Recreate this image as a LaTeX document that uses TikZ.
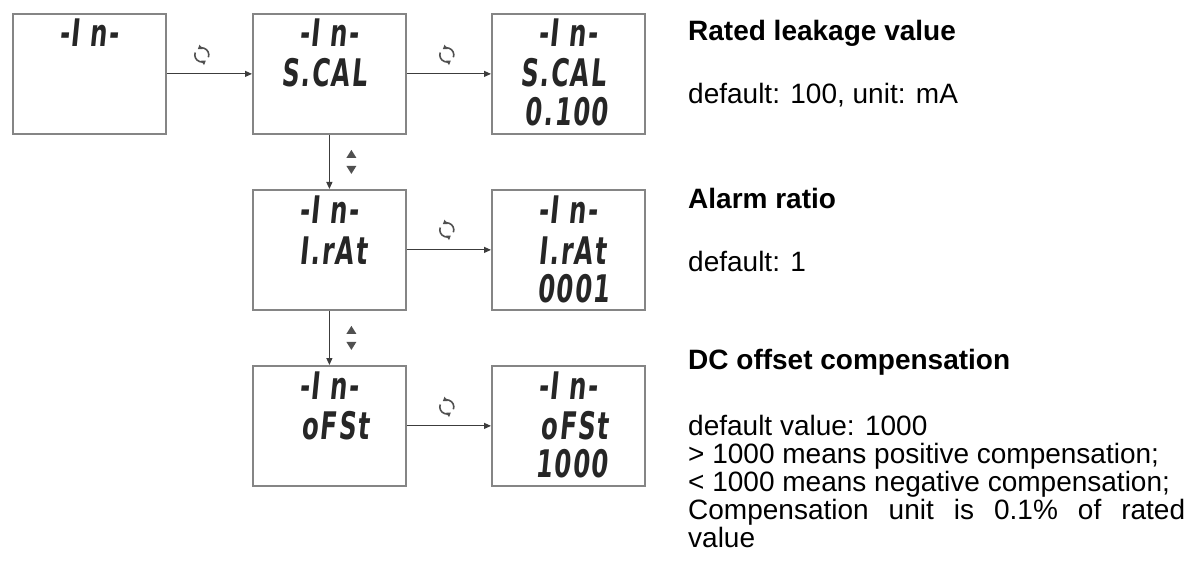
\documentclass[tikz,border=0pt]{standalone}
\usepackage{fontspec}
\setmainfont{Liberation Sans}
\newfontfamily\lcdfont[FakeSlant=0.1,FakeStretch=0.64,LetterSpace=4]{DejaVu Sans Bold}
\usetikzlibrary{arrows.meta,calc}
\definecolor{boxgray}{HTML}{858585}
\definecolor{arrowgray}{HTML}{3C3C3C}
\definecolor{icongray}{HTML}{505050}
\tikzset{
  screen/.style={draw=boxgray, line width=1.8pt, minimum width=153pt, minimum height=120pt, inner sep=0pt, anchor=north west},
  lcd/.style={font=\lcdfont\fontsize{38}{38}\selectfont, text=black!85, inner sep=0pt, anchor=base},
  lcdr/.style={lcd, anchor=base east},
  conn/.style={draw=arrowgray, line width=1.1pt, -{Triangle[length=7pt,width=6pt]}},
  note/.style={font=\fontsize{28}{28}\selectfont, anchor=base west, inner sep=0pt},
  head/.style={font=\bfseries\fontsize{28}{28}\selectfont, anchor=base west, inner sep=0pt},
  refresh/.pic={
    \draw[line width=1.6pt, draw=icongray, -{Triangle[length=4pt,width=5pt]}] (200:7) arc[start angle=200, end angle=55, radius=7];
    \draw[line width=1.6pt, draw=icongray, -{Triangle[length=4pt,width=5pt]}] (20:7) arc[start angle=20, end angle=-125, radius=7];
  },
  updown/.pic={
    \fill[icongray] (-5,-4) -- (5,-4) -- (0,-12) -- cycle;
    \fill[icongray] (-5,4) -- (5,4) -- (0,12) -- cycle;
  }
}
\begin{document}
\begin{tikzpicture}[x=1pt,y=-1pt]
\useasboundingbox (0,0) rectangle (1191,564);
% screens
\node[screen] (s1) at (12,13) {};
\node[screen] (s2) at (252,13) {};
\node[screen] (s3) at (491,13) {};
\node[screen] (s4) at (252,189) {};
\node[screen] (s5) at (491,189) {};
\node[screen] (s6) at (252,365) {};
\node[screen] (s7) at (491,365) {};
% LCD texts
\node[lcd] (s1a) at ($(s1.north west)+(77,34)$) {-I n-};
\node[lcd] (s2a) at ($(s2.north west)+(77,34)$) {-I n-};
\node[lcdr] (s2b) at ($(s2.north west)+(115,74)$) {S.CAL};
\node[lcd] (s3a) at ($(s3.north west)+(77,34)$) {-I n-};
\node[lcdr] (s3b) at ($(s3.north west)+(115,74)$) {S.CAL};
\node[lcdr] (s3c) at ($(s3.north west)+(117,113)$) {0.100};
\node[lcd] (s4a) at ($(s4.north west)+(77,34)$) {-I n-};
\node[lcdr] (s4b) at ($(s4.north west)+(115,75)$) {I.rAt};
\node[lcd] (s5a) at ($(s5.north west)+(77,34)$) {-I n-};
\node[lcdr] (s5b) at ($(s5.north west)+(115,75)$) {I.rAt};
\node[lcdr] (s5c) at ($(s5.north west)+(119,113)$) {0001};
\node[lcd] (s6a) at ($(s6.north west)+(77,34)$) {-I n-};
\node[lcdr] (s6b) at ($(s6.north west)+(117,74)$) {oFSt};
\node[lcd] (s7a) at ($(s7.north west)+(77,34)$) {-I n-};
\node[lcdr] (s7b) at ($(s7.north west)+(117,74)$) {oFSt};
\node[lcdr] (s7c) at ($(s7.north west)+(117,112)$) {1000};
% connectors
\draw[conn] (s1.east) -- (s2.west);
\draw[conn] (s2.east) -- (s3.west);
\draw[conn] (s4.east) -- (s5.west);
\draw[conn] (s6.east) -- (s7.west);
\draw[conn] (s2.south) -- (s4.north);
\draw[conn] (s4.south) -- (s6.north);
% icons
\pic at ($(s1.east)+(35,-19)$) {refresh};
\pic at ($(s2.east)+(40,-19)$) {refresh};
\pic at ($(s4.east)+(40,-20)$) {refresh};
\pic at ($(s6.east)+(40,-19)$) {refresh};
\pic at ($(s2.south)!0.5!(s4.north)+(22,0)$) {updown};
\pic at ($(s4.south)!0.5!(s6.north)+(22,0)$) {updown};
% descriptions
\node[head] (h1) at (688,41) {Rated leakage value};
\node[note] (t1) at (688,104) {default: 100, unit: mA};
\node[head] (h2) at (688,208) {Alarm ratio};
\node[note] (t2) at (688,271) {default: 1};
\node[head] (h3) at (688,369) {DC offset compensation};
\node[note] (t3a) at (688,435) {default value: 1000};
\node[note] (t3b) at (688,463) {> 1000 means positive compensation;};
\node[note] (t3c) at (688,491) {< 1000 means negative compensation;};
\node[note] (t3d) at (688,519) {\makebox[497pt][s]{Compensation unit is 0.1\% of rated}};
\node[note] (t3e) at (688,547) {value};
\end{tikzpicture}
\end{document}
